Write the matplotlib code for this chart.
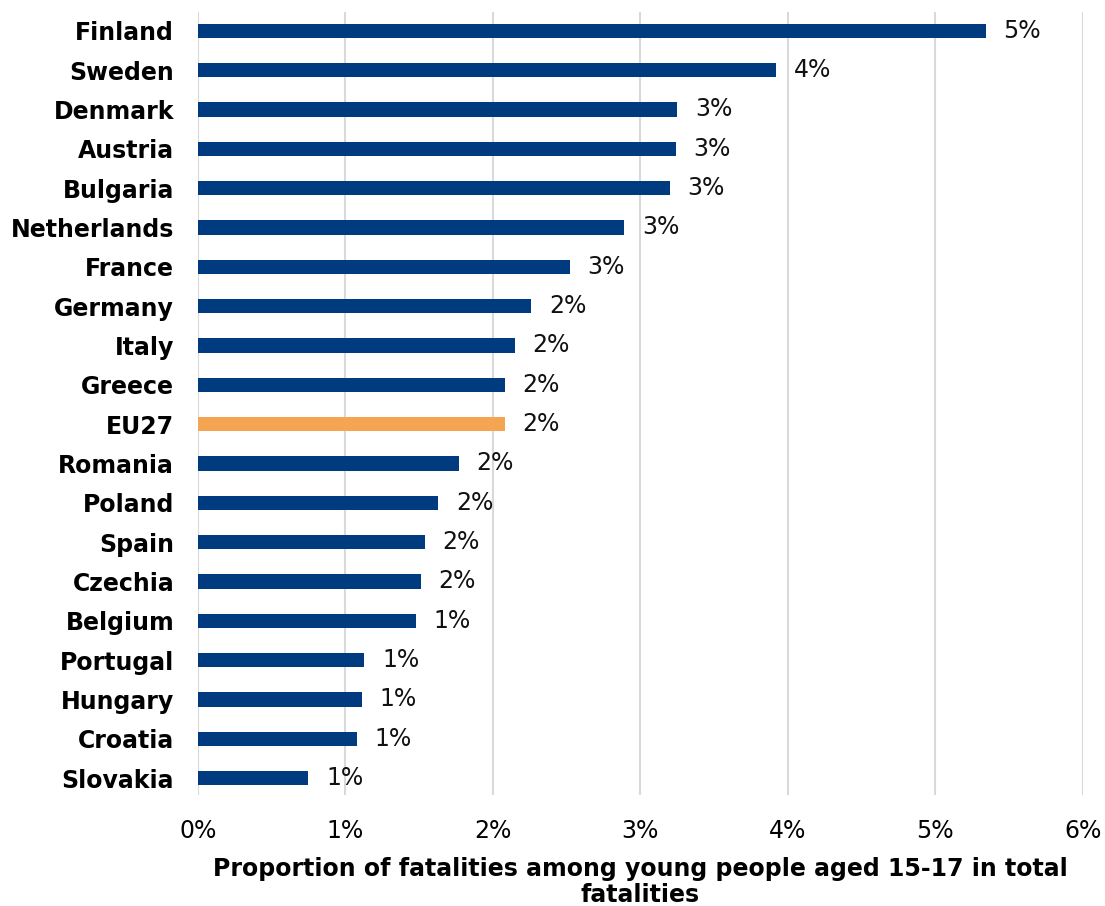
import numpy as np
import matplotlib.pyplot as plt

countries = ["Finland", "Sweden", "Denmark", "Austria", "Bulgaria", "Netherlands",
             "France", "Germany", "Italy", "Greece", "EU27", "Romania", "Poland",
             "Spain", "Czechia", "Belgium", "Portugal", "Hungary", "Croatia", "Slovakia"]
values = [5.34, 3.92, 3.25, 3.24, 3.20, 2.89, 2.52, 2.26, 2.15, 2.08, 2.08, 1.77,
          1.63, 1.54, 1.51, 1.48, 1.13, 1.11, 1.08, 0.75]

blue = "#003B80"
orange = "#F5A451"
colors = [orange if c == "EU27" else blue for c in countries]

fig = plt.figure(figsize=(11.05, 9.06), dpi=100)
ax = fig.add_axes([0.179, 0.1225, 0.801, 0.8643])

y = np.arange(len(countries))
ax.barh(y, values, height=0.36, color=colors, zorder=3)
for yi, v in zip(y, values):
    ax.text(v + 0.12, yi, f"{round(v):.0f}%", va="center", ha="left", fontsize=17,
            color="#111111")

ax.set_xlim(0, 6)
ax.set_ylim(len(countries) - 0.57, -0.48)
ax.set_yticks(y)
ax.set_yticklabels(countries, fontsize=17, fontweight="bold")
ax.set_xticks(np.arange(0, 7))
ax.set_xticklabels([f"{i}%" for i in range(7)], fontsize=17)
ax.tick_params(axis="both", length=0)
ax.tick_params(axis="x", pad=17)
ax.tick_params(axis="y", pad=17)
ax.xaxis.grid(True, color="#D9D9D9", linewidth=1.5, zorder=0)
for s in ax.spines.values():
    s.set_visible(False)
ax.set_xlabel("Proportion of fatalities among young people aged 15-17 in total\nfatalities",
              fontsize=17, fontweight="bold", labelpad=10, linespacing=1.15)

fig.savefig("out.png", dpi=100)
